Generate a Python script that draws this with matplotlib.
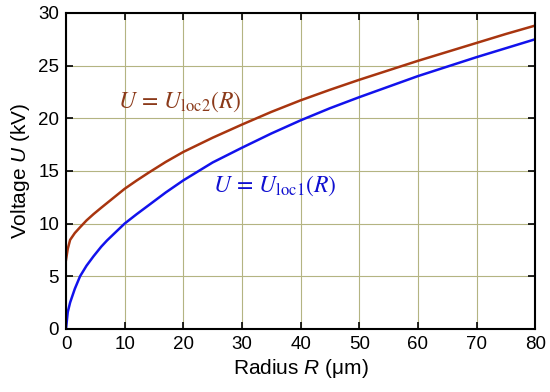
import numpy as np
import matplotlib
matplotlib.use("Agg")
import matplotlib.pyplot as plt

plt.rcParams['font.family'] = ['Liberation Sans', 'DejaVu Sans']
plt.rcParams['mathtext.fontset'] = 'custom'
plt.rcParams['mathtext.rm'] = 'Liberation Sans'
plt.rcParams['mathtext.it'] = 'Liberation Sans:italic'

# radius (um) and voltage (kV)
r_loc1 = [0, 0.3, 0.7, 1.5, 2.4, 3.5, 4.7, 6, 7, 10, 12, 14, 17, 20, 25, 30, 35, 40, 45, 50, 55, 60, 65, 70, 75, 80]
u_loc1 = [0, 1.6, 2.5, 3.8, 5.0, 6.0, 6.9, 7.8, 8.4, 10.0, 10.87, 11.7, 12.95, 14.1, 15.8, 17.2, 18.55, 19.8, 20.95, 22.0, 23.0, 24.0, 24.9, 25.8, 26.65, 27.5]

r_loc2 = [0, 0.3, 0.7, 1.5, 2.4, 3.5, 4.7, 6, 7, 10, 12, 14, 17, 20, 25, 30, 35, 40, 45, 50, 55, 60, 65, 70, 75, 80]
u_loc2 = [6.55, 7.6, 8.45, 9.1, 9.65, 10.3, 10.9, 11.5, 11.95, 13.3, 14.07, 14.8, 15.85, 16.8, 18.15, 19.4, 20.6, 21.7, 22.7, 23.65, 24.55, 25.45, 26.3, 27.15, 28.0, 28.8]

fig = plt.figure(figsize=(5.5, 3.92), dpi=100)
ax = fig.add_axes([0.12, 0.161, 0.853, 0.806])

ax.plot(r_loc2, u_loc2, color='#a8350f', lw=1.8)
ax.plot(r_loc1, u_loc1, color='#1212ec', lw=1.8)

ax.set_xlim(0, 80)
ax.set_ylim(0, 30)
ax.set_xticks(np.arange(0, 81, 10))
ax.set_yticks(np.arange(0, 31, 5))
ax.grid(True, color='#b4b482', lw=0.8)
ax.tick_params(direction='in', top=True, right=True, labelsize=13.5, length=5, width=1.2, pad=5)
for s in ax.spines.values():
    s.set_linewidth(1.5)

ax.set_xlabel(r'Radius $\mathit{R}$ (μm)', fontsize=15, labelpad=3)
ax.set_ylabel(r'Voltage $\mathit{U}$ (kV)', fontsize=15, labelpad=4)

ax.text(8.9, 21.0, r'$U\,=\,U_{\mathrm{loc2}}(R)$', color='#8b3a1a', fontsize=17,
        math_fontfamily='stix', va='baseline')
ax.text(25.1, 13.0, r'$U\,=\,U_{\mathrm{loc1}}(R)$', color='#1010d0', fontsize=17,
        math_fontfamily='stix', va='baseline')

fig.savefig('out.png', dpi=100)
